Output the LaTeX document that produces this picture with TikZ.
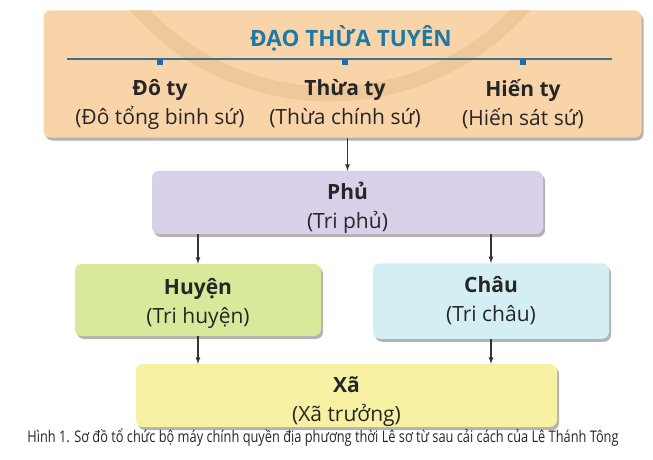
\documentclass[tikz,border=0pt]{standalone}
\usepackage{fontspec}
\setmainfont{Open Sans}
\newfontfamily\capfont[FakeStretch=0.8]{Open Sans}
\usepackage{tikz}
\tikzset{>=latex}
\usetikzlibrary{shadows}
\definecolor{daocol}{HTML}{F9D4A9}
\definecolor{arccol}{HTML}{EEC899}
\definecolor{phucol}{HTML}{D9D0EA}
\definecolor{huyencol}{HTML}{D8E99C}
\definecolor{chaucol}{HTML}{D4EFF4}
\definecolor{xacol}{HTML}{F6F1A3}
\definecolor{titlecol}{HTML}{1D7AA4}
\definecolor{rulecol}{HTML}{3F6E8E}
\definecolor{dotcol}{HTML}{1F6AB4}
\newcommand\toprow[1][29pt]{\rule{0pt}{#1}}
\newcommand\lastrow[1]{\rule[-#1]{0pt}{0pt}}

\begin{document}
\begin{tikzpicture}[x=1pt, y=-1pt,
    box/.style={rounded corners=7pt, align=center, inner sep=0pt,
        font=\fontsize{21}{29}\selectfont, text=black!85,
        drop shadow={shadow xshift=2pt, shadow yshift=-3pt, opacity=.6}},
    col/.style={align=center, font=\fontsize{21}{29}\selectfont, text=black!85},
    link/.style={->, line width=1.2pt, draw=black!80}]
    \useasboundingbox (0, 0) rectangle (653, 460);
    % dao thua tuyen
    \node[box, fill=daocol, minimum width=598pt, minimum height=127pt](dao)at(342.5, 74){};
    \begin{scope}
        \clip[rounded corners=7pt](dao.south west)rectangle(dao.north east);
        \draw[arccol, line width=15pt](330, -164)circle[radius=258pt];
    \end{scope}
    \node[font=\fontsize{22.5}{22.5}\selectfont\bfseries, text=titlecol](title)at(351, 38){ĐẠO THỪA TUYÊN};
    \draw[rulecol, line width=1.4pt](67, 59)coordinate(r0)--(612, 59)coordinate(r1);
    \foreach \x in {160, 345, 523}
        \fill[dotcol](\x-3, 59)rectangle(\x+3, 65);
    \node[col](doty)at(160, 104){\textbf{Đô ty}\\(Đô tổng binh sứ)};
    \node[col](thuaty)at(345, 104){\textbf{Thừa ty}\\(Thừa chính sứ)};
    \node[col](hienty)at(523, 104){\textbf{Hiến ty}\\(Hiến sát sứ)};
    % levels below
    \node[box, fill=phucol, minimum width=391pt, minimum height=55pt](phu)at(347.5, 202.5){\toprow\textbf{Phủ}\\(Tri phủ)};
    \node[box, fill=huyencol, minimum width=246pt, minimum height=72pt](huyen)at(198, 300){\toprow[23pt]\textbf{Huyện}\\(Tri huyện)};
    \node[box, fill=chaucol, minimum width=236pt, minimum height=66pt](chau)at(491, 301){\toprow\textbf{Châu}\\(Tri châu)\lastrow{17.5pt}};
    \node[box, fill=xacol, minimum width=421pt, minimum height=63pt](xa)at(346.5, 395.5){\toprow\textbf{Xã}\\(Xã trưởng)};
    \draw[link](phu.north |- dao.south)--(phu.north);
    \draw[link](phu.south -| huyen.north)--(huyen.north);
    \draw[link](phu.south -| chau.north)--(chau.north);
    \draw[link](huyen.south)--(huyen.south |- xa.north);
    \draw[link](chau.south)--(chau.south |- xa.north);
    \node[font=\capfont\fontsize{16}{16}\selectfont, text=black!85](caption)at(323, 437){Hình 1. Sơ đồ tổ chức bộ máy chính quyền địa phương thời Lê sơ từ sau cải cách của Lê Thánh Tông};
\end{tikzpicture}
\end{document}
